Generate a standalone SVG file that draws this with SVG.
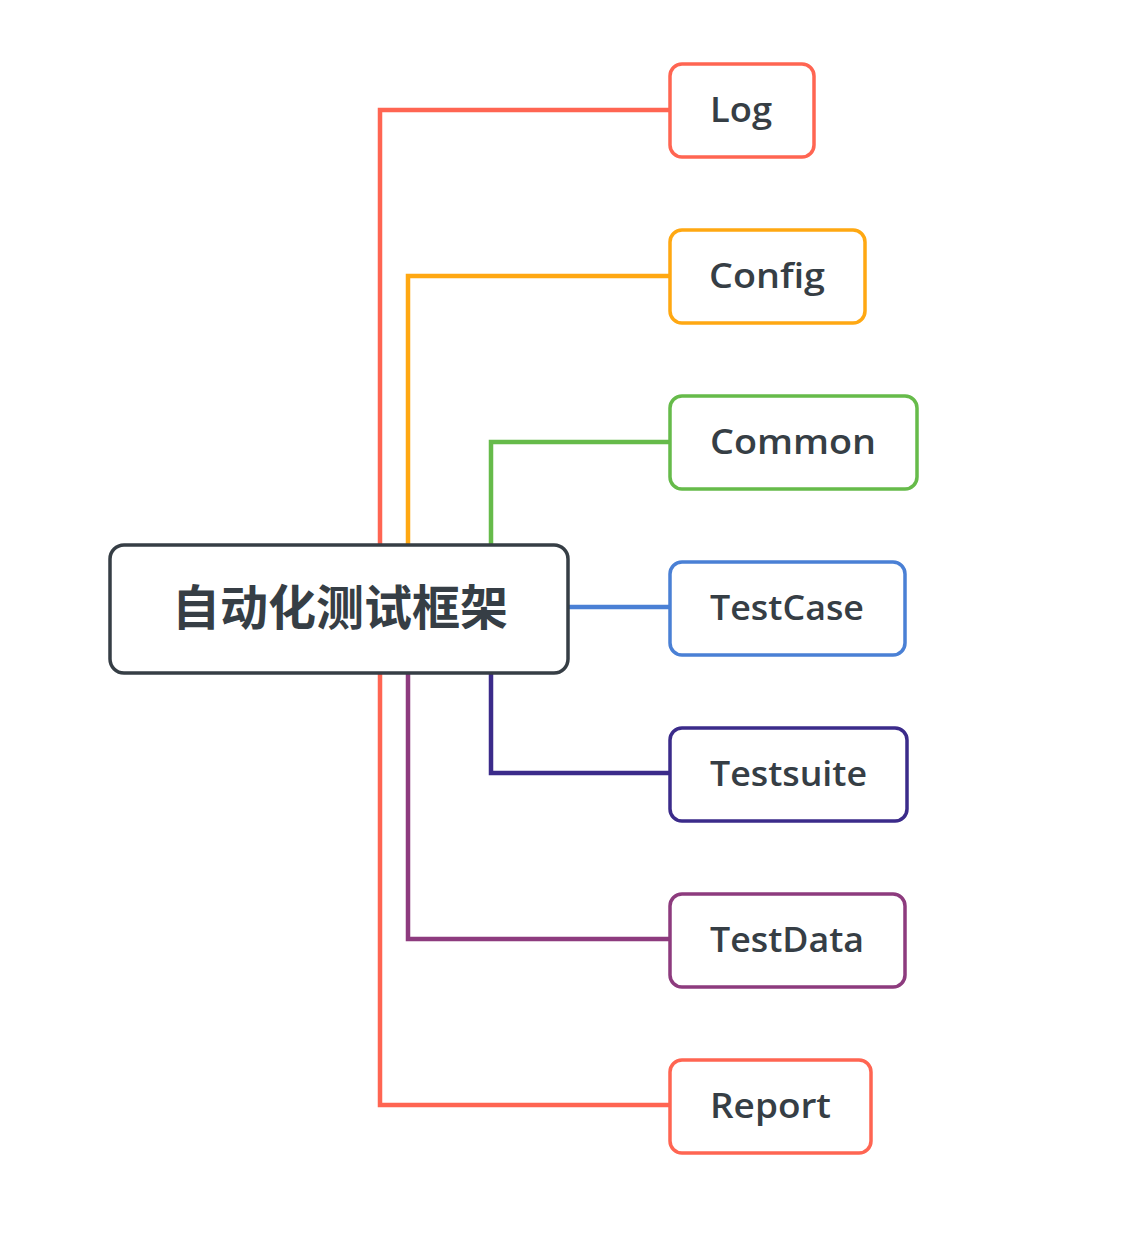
<svg xmlns="http://www.w3.org/2000/svg" width="1146" height="1240" viewBox="0 0 1146 1240">
<style>
.conn{fill:none;stroke-width:4.5;stroke-linejoin:miter;stroke-linecap:butt}
.box{fill:#ffffff;stroke-width:3.5}
.lbl{font-family:"Open Sans","Liberation Sans",sans-serif;font-weight:600;font-size:34px;fill:#363e45}
.root{font-family:"Noto Sans CJK SC","Noto Sans",sans-serif;font-weight:700;font-size:48px;fill:#363e45}
</style>
<rect width="1146" height="1240" fill="#ffffff"/>
<g id="connectors">
<path class="conn" stroke="#ff6552" d="M670,110 H380 V1105 H670"/>
<path class="conn" stroke="#ffa812" d="M670,276 H408 V560"/>
<path class="conn" stroke="#66bb4a" d="M670,442 H491 V560"/>
<path class="conn" stroke="#4a80d5" d="M560,607 H670"/>
<path class="conn" stroke="#3b2b8a" d="M491,660 V773 H670"/>
<path class="conn" stroke="#8d3b7e" d="M408,660 V939 H670"/>
</g>
<g id="root">
<rect class="box" x="110" y="545" width="458" height="128" rx="14" stroke="#363e45"/>
<text class="root" x="340" y="625" text-anchor="middle">自动化测试框架</text>
</g>
<g id="log">
<rect class="box" x="670" y="64" width="144" height="93" rx="12" stroke="#ff6552"/>
<text class="lbl" x="710" y="122" textLength="62" lengthAdjust="spacingAndGlyphs">Log</text>
</g>
<g id="config">
<rect class="box" x="670" y="230" width="195" height="93" rx="12" stroke="#ffa812"/>
<text class="lbl" x="709" y="288" textLength="116" lengthAdjust="spacingAndGlyphs">Config</text>
</g>
<g id="common">
<rect class="box" x="670" y="396" width="247" height="93" rx="12" stroke="#66bb4a"/>
<text class="lbl" x="710" y="454" textLength="166" lengthAdjust="spacingAndGlyphs">Common</text>
</g>
<g id="testcase">
<rect class="box" x="670" y="562" width="235" height="93" rx="12" stroke="#4a80d5"/>
<text class="lbl" x="710" y="620" textLength="154" lengthAdjust="spacingAndGlyphs">TestCase</text>
</g>
<g id="testsuite">
<rect class="box" x="670" y="728" width="237" height="93" rx="12" stroke="#3b2b8a"/>
<text class="lbl" x="710" y="786" textLength="157" lengthAdjust="spacingAndGlyphs">Testsuite</text>
</g>
<g id="testdata">
<rect class="box" x="670" y="894" width="235" height="93" rx="12" stroke="#8d3b7e"/>
<text class="lbl" x="710" y="952" textLength="154" lengthAdjust="spacingAndGlyphs">TestData</text>
</g>
<g id="report">
<rect class="box" x="670" y="1060" width="201" height="93" rx="12" stroke="#ff6552"/>
<text class="lbl" x="710" y="1118" textLength="121" lengthAdjust="spacingAndGlyphs">Report</text>
</g>
</svg>
